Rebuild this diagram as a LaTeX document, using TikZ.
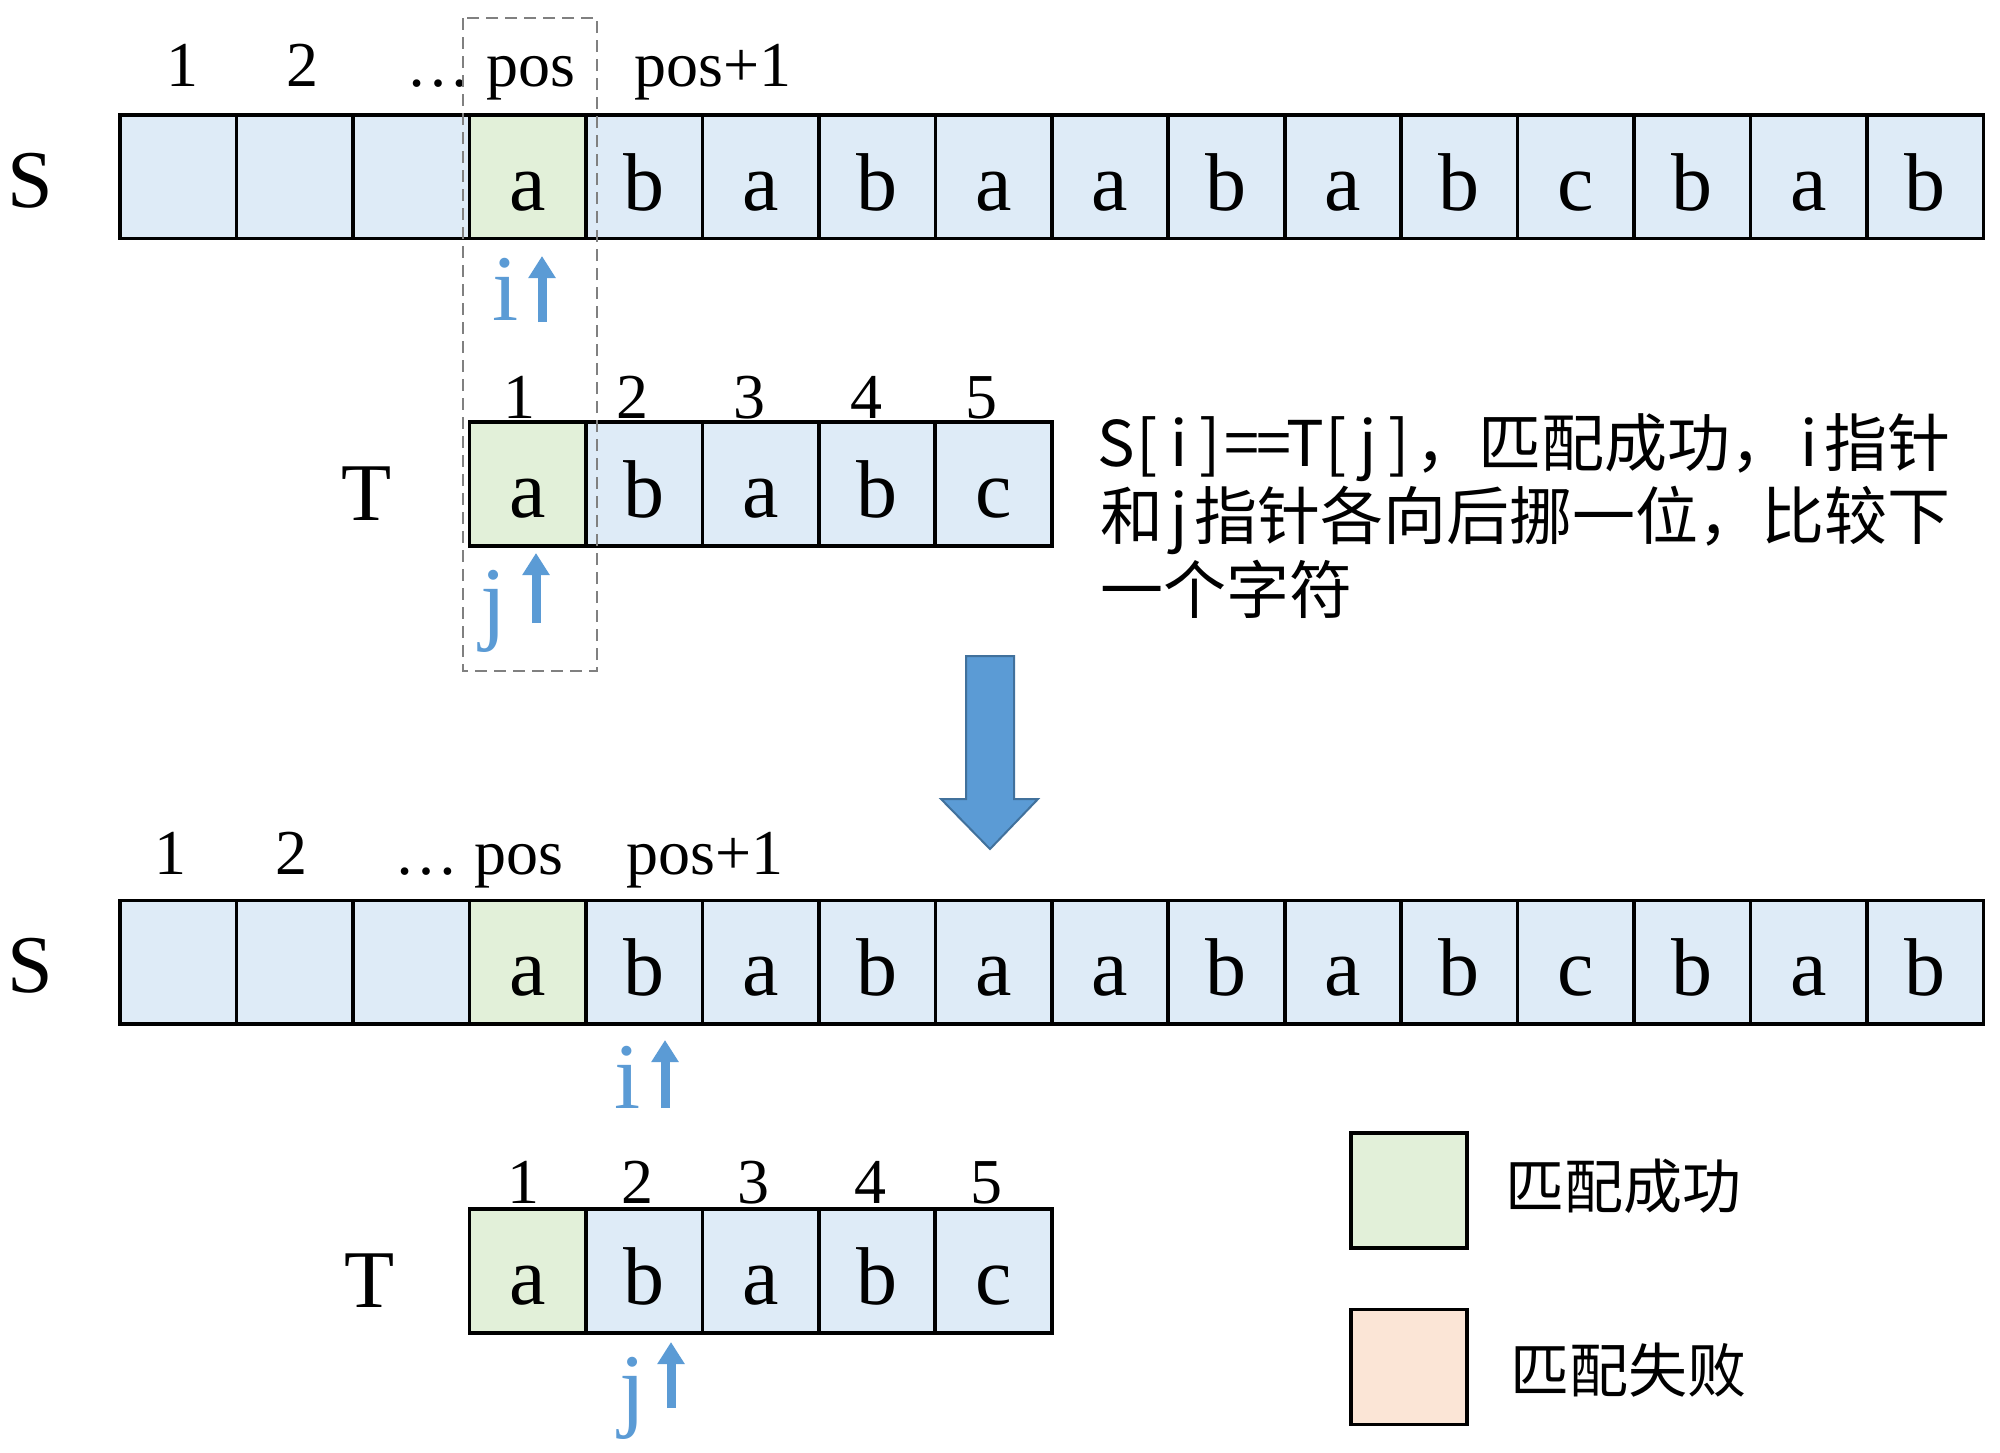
\documentclass[tikz,border=0pt]{standalone}
\usepackage{fontspec}
\setmainfont{Liberation Serif}
\newfontfamily\cjk{Noto Sans CJK SC}
\usetikzlibrary{arrows.meta}
\definecolor{cellblue}{HTML}{DEEBF7}
\definecolor{cellgreen}{HTML}{E2F0D9}
\definecolor{cellpeach}{HTML}{FBE5D6}
\definecolor{ptrblue}{HTML}{5B9BD5}
\definecolor{bigedge}{HTML}{41719C}
\definecolor{dashgray}{HTML}{808080}
\newcommand\hw[1]{\makebox[0.5em]{#1}}
\tikzset{
  cell/.style={draw=black, line width=1.8pt, fill=cellblue, minimum width=58.235pt,
    minimum height=61.85pt, inner sep=0pt, outer sep=0pt, text height=33.5pt,
    text depth=0pt, font=\fontsize{41}{41}\selectfont},
  okcell/.style={cell, fill=cellgreen},
  idx/.style={anchor=base, inner sep=0pt, font=\fontsize{32}{32}\selectfont},
  rowname/.style={anchor=base, inner sep=0pt, font=\fontsize{41}{41}\selectfont},
  ptr/.style={anchor=base, inner sep=0pt, text=ptrblue, font=\fontsize{47}{47}\selectfont},
  ptrarrow/.style={draw=ptrblue, line width=4.5pt, -{Triangle[width=13pt,length=11pt]}},
  desc/.style={anchor=base west, inner sep=0pt, font=\cjk\fontsize{31.5}{31.5}\selectfont},
  legtext/.style={anchor=base west, inner sep=0pt, font=\cjk\fontsize{29.5}{29.5}\selectfont},
  legbox/.style={draw=black, line width=1.8pt, minimum width=58pt, minimum height=57.5pt, inner sep=0pt},
}
\begin{document}
\begin{tikzpicture}[x=0.5pt,y=-0.5pt]
\useasboundingbox[fill=white] (0,0) rectangle (2000,1452);

% ---------- top S row ----------
\foreach \k/\ch/\st in {1/{}/cell,2/{}/cell,3/{}/cell,4/a/okcell,5/b/cell,6/a/cell,7/b/cell,8/a/cell,9/a/cell,10/b/cell,11/a/cell,12/b/cell,13/c/cell,14/b/cell,15/a/cell,16/b/cell}
  \node[\st] (sa\k) at ({120+(\k-0.5)*116.47},176.65) {\ch};
\node[rowname] (snamea) at (30,207) {S};
\node[idx] (ia1) at (182,86) {1};
\node[idx] (ia2) at (302,86) {2};
\node[idx] (ia3) at (438,86) {…};
\node[idx] (ia4) at (531,86) {pos};
\node[idx] (ia5) at (713,86) {pos+1};
\node[ptr] (ptria) at (506,320) {i};
\coordinate (pia0) at (542,322);
\coordinate (pia1) at (542,256);
\draw[ptrarrow] (pia0) -- (pia1);

% ---------- top T row ----------
\foreach \k/\ch/\st in {1/a/okcell,2/b/cell,3/a/cell,4/b/cell,5/c/cell}
  \node[\st] (ta\k) at ({469.4+(\k-0.5)*116.47},484.05) {\ch};
\node[rowname] (tnamea) at (367,520) {T};
\foreach \k/\x in {1/519,2/632,3/749,4/866,5/981}
  \node[idx] (ja\k) at (\x,418) {\k};
\node[ptr] (ptrja) at (494,632) {j};
\coordinate (pja0) at (536,623);
\coordinate (pja1) at (536,553);
\draw[ptrarrow] (pja0) -- (pja1);

% dashed highlight
\draw[dashgray, line width=1.1pt, dash pattern=on 6pt off 3.5pt] (463,18) rectangle (597,671);

% description
\node[desc] (d1) at (1100,466) {\hw{S}\hw{[}\hw{i}\hw{]}\hw{=}\hw{=}\hw{T}\hw{[}\hw{j}\hw{]}，匹配成功，\hw{i}指针};
\node[desc] (d2) at (1100,539) {和\hw{j}指针各向后挪一位，比较下};
\node[desc] (d3) at (1100,613) {一个字符};

% big arrow
\draw[fill=ptrblue, draw=bigedge, line width=1pt]
  (966,656) -- (1014,656) -- (1014,799) -- (1038,799) -- (990,849) -- (941,799) -- (966,799) -- cycle;

% ---------- bottom S row ----------
\foreach \k/\ch/\st in {1/{}/cell,2/{}/cell,3/{}/cell,4/a/okcell,5/b/cell,6/a/cell,7/b/cell,8/a/cell,9/a/cell,10/b/cell,11/a/cell,12/b/cell,13/c/cell,14/b/cell,15/a/cell,16/b/cell}
  \node[\st] (sb\k) at ({120+(\k-0.5)*116.47},962.35) {\ch};
\node[rowname] (snameb) at (30,992) {S};
\node[idx] (ib1) at (170,874) {1};
\node[idx] (ib2) at (291,874) {2};
\node[idx] (ib3) at (426,874) {…};
\node[idx] (ib4) at (519,874) {pos};
\node[idx] (ib5) at (705,874) {pos+1};
\node[ptr] (ptrib) at (628,1108) {i};
\coordinate (pib0) at (665,1108);
\coordinate (pib1) at (665,1040);
\draw[ptrarrow] (pib0) -- (pib1);

% ---------- bottom T row ----------
\foreach \k/\ch/\st in {1/a/okcell,2/b/cell,3/a/cell,4/b/cell,5/c/cell}
  \node[\st] (tb\k) at ({469.4+(\k-0.5)*116.47},1271.05) {\ch};
\node[rowname] (tnameb) at (370,1307) {T};
\foreach \k/\x in {1/523,2/637,3/753,4/870,5/986}
  \node[idx] (jb\k) at (\x,1203) {\k};
\node[ptr] (ptrjb) at (633,1419) {j};
\coordinate (pjb0) at (671,1408);
\coordinate (pjb1) at (671,1342);
\draw[ptrarrow] (pjb0) -- (pjb1);

% ---------- legend ----------
\node[legbox, fill=cellgreen] (legok) at (1409,1190.5) {};
\node[legtext] (legoktext) at (1505,1208) {匹配成功};
\node[legbox, fill=cellpeach] (legfail) at (1409,1367) {};
\node[legtext] (legfailtext) at (1510,1392) {匹配失败};
\end{tikzpicture}
\end{document}
